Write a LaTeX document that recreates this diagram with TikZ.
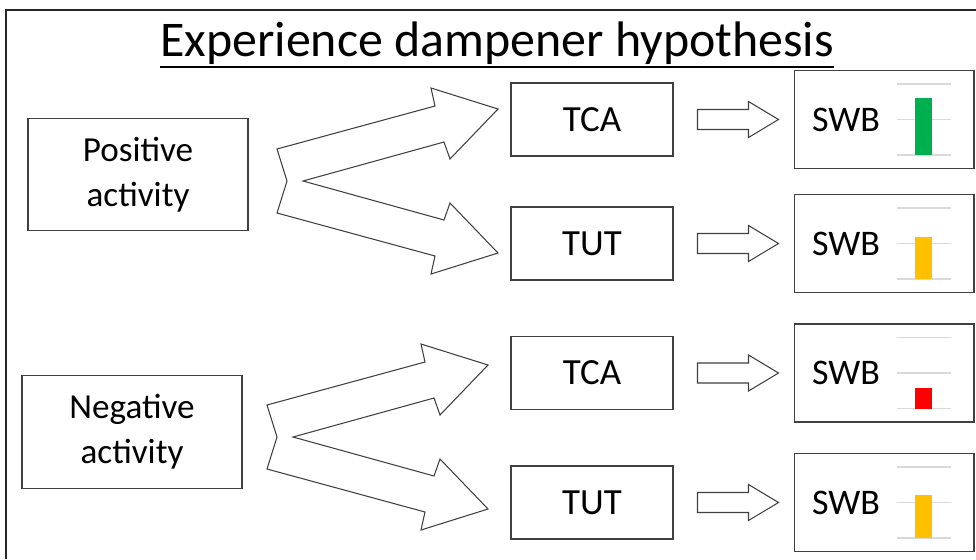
\documentclass[tikz,border=0pt]{standalone}
\usepackage{fontspec}
\setmainfont{Carlito}
\usepackage{tikz}
\usetikzlibrary{positioning}
\usepackage{xcolor}

\definecolor{swbgreen}{HTML}{00B050}
\definecolor{swbyellow}{HTML}{FFC000}
\definecolor{swbred}{HTML}{FF0000}
\definecolor{gridgray}{HTML}{D9D9D9}
\definecolor{edgegray}{HTML}{404040}

\tikzset{
  actbox/.style={draw=edgegray, line width=0.6pt, minimum width=4.4cm, minimum height=2.25cm,
    align=center, font=\fontsize{20}{25.5}\selectfont},
  tbox/.style={draw=edgegray, line width=0.6pt, minimum width=3.24cm, minimum height=1.46cm,
    font=\fontsize{21}{25}\selectfont},
  swbbox/.style={draw=edgegray, line width=0.6pt, minimum width=3.6cm, minimum height=1.96cm},
  fork/.style={draw=edgegray, line width=0.6pt, fill=white, line join=miter},
  blockarr/.style={draw=edgegray, line width=0.6pt, fill=white},
  gridln/.style={draw=gridgray, line width=0.8pt}
}

\begin{document}
\begin{tikzpicture}[x=0.02cm, y=-0.02cm]
\useasboundingbox (0,0) rectangle (976,559);

% frame
\draw [black!85, line width=1.1pt] (976,10) -- (6,10) -- (6,559);

% title
\node [anchor=base, inner sep=0pt, font=\fontsize{28.4}{34}\selectfont] (title) at (497,56) {Experience dampener hypothesis};
\draw [line width=1.1pt] ([yshift=-6pt]title.base west) -- ([yshift=-6pt]title.base east);

% activities
\node [actbox] (pos) at (138,174.5) {Positive\\activity};
\node [actbox] (neg) at (132,432) {Negative\\activity};

% TCA / TUT boxes
\node [tbox] (tca1) at (592,119.5) {TCA};
\node [tbox] (tut1) at (592,243.5) {TUT};
\node [tbox] (tca2) at (592,373) {TCA};
\node [tbox] (tut2) at (592,502.5) {TUT};

% forked arrows
\begin{scope}[shift={(287,181)}]
  \draw [fork] (0,0) -- (-10,-32) -- (148,-75) -- (144,-93) -- (211,-72) -- (163,-22) -- (157,-39)
    -- (16,0) -- (157,39) -- (163,22) -- (211,72) -- (144,93) -- (148,75) -- (-10,32) -- cycle;
\end{scope}
\begin{scope}[shift={(277,437)}]
  \draw [fork] (0,0) -- (-10,-32) -- (148,-75) -- (144,-93) -- (211,-72) -- (163,-22) -- (157,-39)
    -- (16,0) -- (157,39) -- (163,22) -- (211,72) -- (144,93) -- (148,75) -- (-10,32) -- cycle;
\end{scope}

% SWB boxes with small bar charts
\foreach \b/\h/\c in {tca1/57/swbgreen, tut1/42/swbyellow, tca2/21/swbred, tut2/43/swbyellow} {
  \node [swbbox, right=2.4cm of \b] (swb-\b) {};
  \begin{scope}[shift={(\b.east)}]
    \draw [blockarr] (24,-10) -- (75,-10) -- (75,-18) -- (105,0) -- (75,18) -- (75,10) -- (24,10) -- cycle;
  \end{scope}
  \begin{scope}[shift={(swb-\b.center)}]
    \node [font=\fontsize{20.5}{25}\selectfont] at (-38,0) {SWB};
    \draw [gridln] (13,-35.5) -- (67,-35.5);
    \draw [gridln] (13,0) -- (67,0);
    \draw [gridln] (13,35.5) -- (67,35.5);
    \fill [\c] (31,35.5) rectangle (48,35.5-\h);
  \end{scope}
}

\end{tikzpicture}
\end{document}
